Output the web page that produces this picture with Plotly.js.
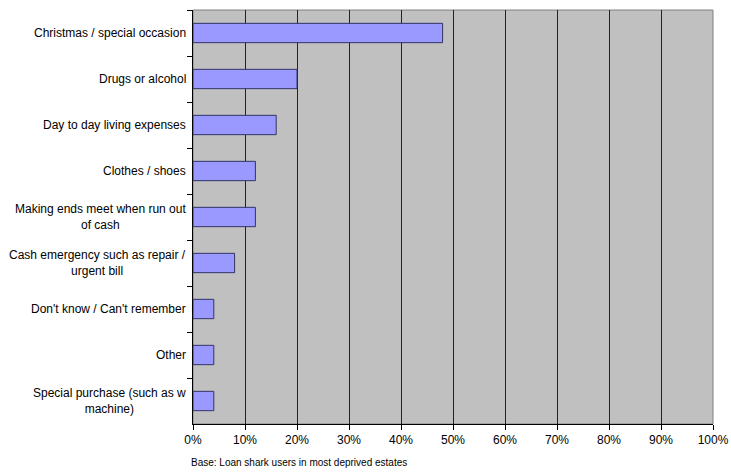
<!DOCTYPE html>
<html><head><meta charset="utf-8">
<script src="https://cdn.plot.ly/plotly-3.0.1.min.js"></script>
<style>html,body{margin:0;padding:0;background:#fff}#chart{width:731px;height:472px}</style>
</head><body><div id="chart"></div>
<script>
const categories = [
  "Christmas / special occasion",
  "Drugs or alcohol",
  "Day to day living expenses",
  "Clothes / shoes",
  "Making ends meet when run out<br>of cash",
  "Cash emergency such as repair /<br>urgent bill",
  "Don't know / Can't remember",
  "Other",
  "Special purchase (such as w<br>machine)"
];
const values = [48, 20, 16, 12, 12, 8, 4, 4, 4];
const xTicks = [0,10,20,30,40,50,60,70,80,90,100];
const footnote = "Base: Loan shark users in most deprived estates";

const trace = {
  type: 'bar', orientation: 'h',
  x: values, y: categories,
  marker: {color: '#9999FF', line: {color: '#333366', width: 1}},
  hoverinfo: 'none'
};
const labelAnns = categories.map(c => ({
  text: c, xref: 'paper', yref: 'y', x: -0.0105, y: c,
  xanchor: 'right', yanchor: 'middle', align: 'center', showarrow: false,
  font: {size: 12, color: '#000'}
}));
const layout = {
  width: 731, height: 472,
  margin: {l: 193, r: 18, t: 10, b: 48, pad: 0},
  paper_bgcolor: '#ffffff', plot_bgcolor: '#C0C0C0',
  font: {family: 'Liberation Sans, Arial, sans-serif', size: 12, color: '#000'},
  bargap: 0.58,
  showlegend: false,
  xaxis: {
    range: [0, 100], tickvals: xTicks, ticktext: xTicks.map(v => v + '%'),
    showgrid: true, gridcolor: '#222222', gridwidth: 1,
    showline: true, linecolor: '#000', linewidth: 1,
    ticks: 'outside', ticklen: 5, tickcolor: '#000',
    zeroline: false, fixedrange: true,
    tickfont: {size: 12}
  },
  yaxis: {
    type: 'category', autorange: 'reversed',
    showgrid: false, zeroline: false,
    showline: true, linecolor: '#000', linewidth: 1,
    ticks: 'outside', ticklen: 5, tickcolor: '#000', tickson: 'boundaries',
    showticklabels: false, fixedrange: true
  },
  shapes: [
    {type: 'rect', xref: 'paper', yref: 'paper', x0: 0, x1: 1, y0: 0, y1: 1,
     line: {color: '#808080', width: 1}, layer: 'below'}
  ],
  annotations: labelAnns.concat([
    {text: footnote, xref: 'paper', yref: 'paper', x: -0.008, y: -0.094,
     xanchor: 'left', yanchor: 'middle', showarrow: false, font: {size: 10, color: '#000'}}
  ])
};
Plotly.newPlot('chart', [trace], layout, {displayModeBar: false, staticPlot: true});
</script></body></html>
